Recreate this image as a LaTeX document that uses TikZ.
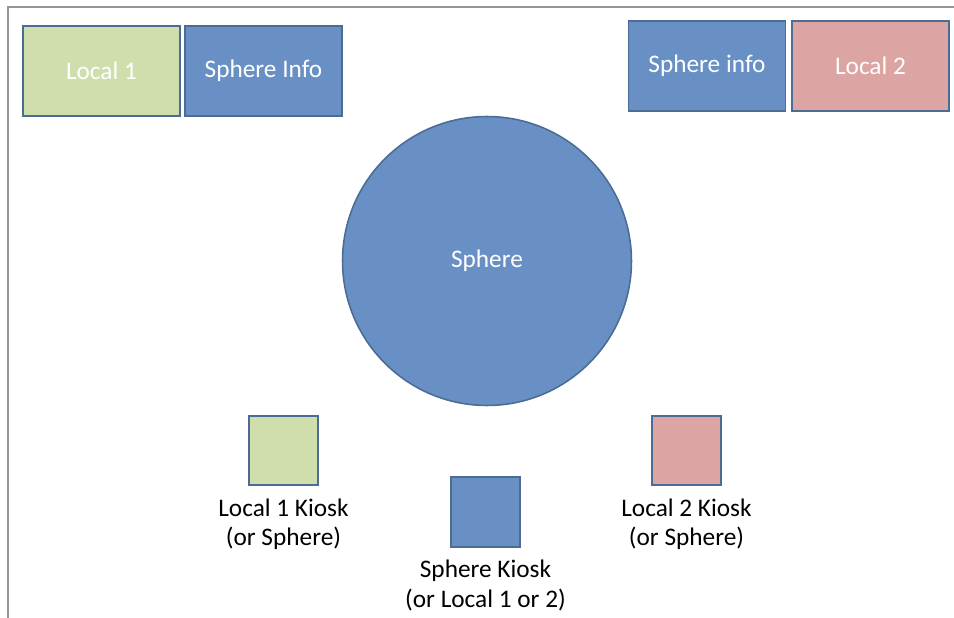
\documentclass[tikz,border=0pt]{standalone}
\usepackage{fontspec}
\setmainfont{Carlito}
\usetikzlibrary{positioning}
\definecolor{sphereblue}{RGB}{104,144,196}
\definecolor{localgreen}{RGB}{208,222,174}
\definecolor{localpink}{RGB}{220,164,162}
\definecolor{edgeblue}{RGB}{76,108,150}
\definecolor{framegray}{RGB}{150,150,150}

\begin{document}
\begin{tikzpicture}[x=0.02cm, y=-0.02cm,
  font=\fontsize{14.4}{16.8}\selectfont,
  booth/.style={draw=edgeblue, line width=1.1pt, text=white,
    minimum width=3.14cm, minimum height=1.8cm, inner sep=0pt},
  kiosk/.style={draw=edgeblue, line width=1.1pt,
    minimum width=1.37cm, minimum height=1.39cm, inner sep=0pt},
  kiosklabel/.style={align=center, anchor=north, inner sep=0pt}]
\useasboundingbox (0,0) rectangle (954,618);
% Page frame, top and left edge only
\draw[framegray, line width=1.3pt] (8,618) -- (8,7) -- (954,7);

% Top left: Local 1 and its info stand
\node[booth, fill=localgreen] (local1) at (101.5,71) {Local 1};
\node[booth, fill=sphereblue] (infoleft) at (263.5,71) {Sphere Info};
% Top right: info stand and Local 2
\node[booth, fill=sphereblue] (inforight) at (707,66) {Sphere info};
\node[booth, fill=localpink] (local2) at (870.5,66) {Local 2};

% Centre: the Sphere
\node[circle, draw=edgeblue, line width=0.9pt, fill=sphereblue, text=white,
  minimum size=5.78cm, inner sep=0pt] (sphere) at (487,261) {Sphere};

% Kiosks along the bottom
\node[kiosk, fill=localgreen] (kiosk1) at (283.5,450.5) {};
\node[kiosk, fill=sphereblue] (kiosks) at (485.5,512) {};
\node[kiosk, fill=localpink] (kiosk2) at (686.5,450.5) {};
\node[kiosklabel, below=0.24cm of kiosk1] (label1) {Local 1 Kiosk\\(or Sphere)};
\node[kiosklabel, below=0.24cm of kiosks] (labels) {Sphere Kiosk\\(or Local 1 or 2)};
\node[kiosklabel, below=0.24cm of kiosk2] (label2) {Local 2 Kiosk\\(or Sphere)};
\end{tikzpicture}
\end{document}
